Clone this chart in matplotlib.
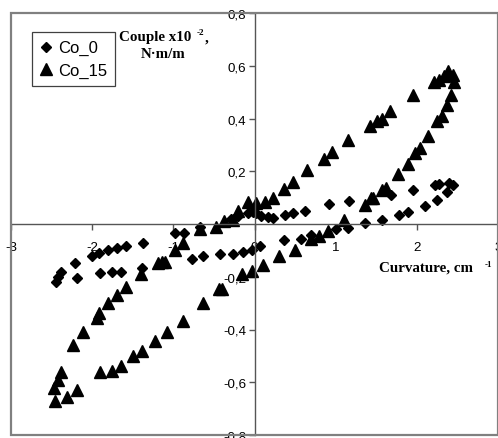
import numpy as np
import matplotlib
matplotlib.use("Agg")
import matplotlib.pyplot as plt
from matplotlib.patches import Rectangle

# Couple vs curvature loops for the two samples
co0_x = [2.40, 2.44, 2.375, 2.25, 2.10, 1.89, 1.78, 1.57, 1.36, 1.15, 1.01, 0.70,
         0.57, 0.36, 0.07, -0.03, -0.14, -0.26, -0.43, -0.64, -0.77, -1.39, -1.64,
         -1.75, -1.90, -2.19, -2.45, -2.42, -2.39, -2.21, -2.00, -1.92, -1.81, -1.70,
         -1.58, -1.375, -0.98, -0.87, -0.67, -0.29, -0.20, -0.08, -0.02, 0.02, 0.08,
         0.17, 0.23, 0.375, 0.48, 0.62, 0.92, 1.17, 1.68, 1.95, 2.22, 2.27]
co0_y = [0.155, 0.146, 0.12, 0.092, 0.067, 0.045, 0.033, 0.016, 0.004, -0.016, -0.02,
         -0.04, -0.055, -0.06, -0.085, -0.10, -0.106, -0.113, -0.113, -0.122, -0.131,
         -0.166, -0.183, -0.183, -0.185, -0.206, -0.22, -0.20, -0.183, -0.147, -0.122,
         -0.11, -0.10, -0.09, -0.083, -0.073, -0.034, -0.034, -0.013, 0.02, 0.03, 0.04,
         0.045, 0.04, 0.03, 0.025, 0.023, 0.035, 0.04, 0.05, 0.075, 0.088, 0.11, 0.13,
         0.146, 0.15]

co15_x = [2.39, 2.33, 2.44, 2.27, 2.21, 2.46, 2.42, 2.37, 2.31, 2.25, 2.14, 2.04, 1.98,
          1.89, 1.77, 1.62, 1.57, 1.46, 1.44, 1.36, 1.10, 0.90, 0.79, 0.69, 0.50, 0.30,
          0.10, -0.03, -0.15, -0.40, -0.44, -0.64, -0.875, -1.08, -1.22, -1.39, -1.50,
          -1.65, -1.76, -1.90, -2.19, -2.31, -2.46, -2.47, -2.42, -2.38, -2.23, -2.11,
          -1.94, -1.92, -1.80, -1.70, -1.58, -1.40, -1.19, -1.14, -1.10, -0.98, -0.875,
          -0.67, -0.48, -0.375, -0.27, -0.20, -0.08, 0.02, 0.125, 0.23, 0.36, 0.47, 0.65,
          0.86, 0.96, 1.15, 1.42, 1.51, 1.57, 1.67, 1.95]
co15_y = [0.58, 0.56, 0.566, 0.545, 0.54, 0.54, 0.49, 0.45, 0.41, 0.39, 0.335, 0.287,
          0.268, 0.228, 0.19, 0.138, 0.13, 0.10, 0.10, 0.073, 0.016, -0.025, -0.047,
          -0.055, -0.097, -0.12, -0.154, -0.18, -0.19, -0.248, -0.245, -0.30, -0.367,
          -0.41, -0.443, -0.48, -0.50, -0.54, -0.556, -0.56, -0.63, -0.657, -0.67, -0.62,
          -0.59, -0.56, -0.46, -0.41, -0.355, -0.336, -0.30, -0.27, -0.24, -0.19, -0.147,
          -0.145, -0.145, -0.097, -0.072, -0.02, -0.012, 0.01, 0.016, 0.05, 0.083, 0.08,
          0.083, 0.10, 0.133, 0.158, 0.205, 0.246, 0.272, 0.318, 0.372, 0.39, 0.40, 0.428,
          0.488]

x_ticks = [-3, -2, -1, 0, 1, 2, 3]
x_labels = ["-3", "-2", "-1", "0", "1", "2", "3"]
y_ticks = [-0.8, -0.6, -0.4, -0.2, 0.2, 0.4, 0.6, 0.8]
y_labels = ["-0,8", "-0,6", "-0,4", "-0,2", "0,2", "0,4", "0,6", "0,8"]

W, H = 498, 439
fig = plt.figure(figsize=(W / 100, H / 100), dpi=100)
ax = fig.add_axes([11 / W, 3 / H, 487 / W, 422 / H])

ax.plot(co0_x, co0_y, linestyle="none", marker="D", ms=5.6, color="black",
        mec="black", label="Co_0")
ax.plot(co15_x, co15_y, linestyle="none", marker="^", ms=8.2, color="black",
        mec="black", label="Co_15")

ax.set_xlim(-3, 3)
ax.set_ylim(-0.8, 0.8)

# axes cross at the origin
for side in ("top", "right"):
    ax.spines[side].set_visible(False)
for side in ("left", "bottom"):
    ax.spines[side].set_position(("data", 0))
    ax.spines[side].set_color("#555555")
    ax.spines[side].set_linewidth(1.0)

ax.set_xticks(x_ticks)
ax.set_xticklabels(x_labels)
ax.set_yticks(y_ticks)
ax.set_yticklabels(y_labels)
ax.tick_params(axis="both", direction="out", length=4, width=1, color="#555555",
               labelsize=9.6)
ax.tick_params(axis="x", pad=8)
ax.tick_params(axis="y", pad=2)
for lab in ax.get_xticklabels() + ax.get_yticklabels():
    lab.set_fontfamily("Liberation Sans")

# plot area border
ax.add_patch(Rectangle((0, 0), 1, 1, transform=ax.transAxes, fill=False,
                       edgecolor="#808080", linewidth=1.6, clip_on=False, zorder=5))

leg = ax.legend(loc="upper left", bbox_to_anchor=(32 / W, 1 - 33 / H),
                bbox_transform=fig.transFigure, borderaxespad=0,
                prop={"family": "Liberation Sans", "size": 12},
                handlelength=0.7, handletextpad=0.35, labelspacing=0.45,
                borderpad=0.5, fancybox=False, framealpha=1)
leg.get_frame().set_edgecolor("#404040")
leg.get_frame().set_linewidth(0.9)

# axis titles
serif = {"family": "Liberation Serif", "weight": "bold"}
fig.text(119 / W, 1 - 37 / H, "Couple x10", fontdict=serif, fontsize=10.8,
         ha="left", va="center")
fig.text(197 / W, 1 - 33 / H, "-2", fontdict=serif, fontsize=6.5,
         ha="left", va="center")
fig.text(205 / W, 1 - 38 / H, ",", fontdict=serif, fontsize=10.8,
         ha="left", va="center")
fig.text(163 / W, 1 - 55 / H, "N·m/m", fontdict=serif, fontsize=10.8,
         ha="center", va="center")
fig.text(379 / W, 1 - 268 / H, "Curvature, cm", fontdict=serif, fontsize=10.8,
         ha="left", va="center")
fig.text(485 / W, 1 - 265 / H, "-1", fontdict=serif, fontsize=6.5,
         ha="left", va="center")

fig.savefig("out.png", dpi=100)
